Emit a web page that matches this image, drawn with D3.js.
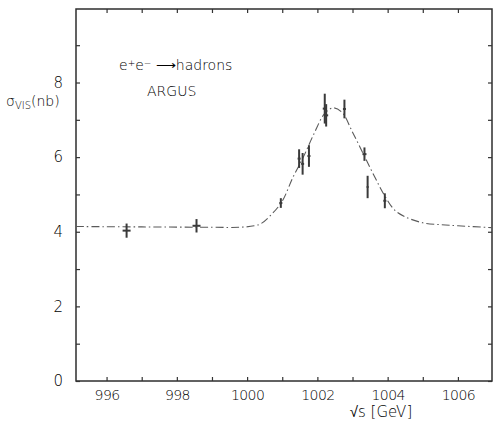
<!DOCTYPE html>
<html>
<head>
<meta charset="utf-8">
<script src="https://cdn.jsdelivr.net/npm/d3@7/dist/d3.min.js"></script>
<style>
  body { margin: 0; background: #fff; }
  svg text { font-family: "DejaVu Sans", sans-serif; font-weight: 200; fill: #000; }
  .axis path { display: none; }
  .axis line { stroke: #333; stroke-width: 1.2; }
</style>
</head>
<body>
<div id="chart-container"></div>
<script>
// measured points (sqrt(s) in GeV, sigma_vis in nb, error)
var pointE   = [9.9657, 9.9856, 10.0096, 10.0148, 10.0158, 10.0176, 10.0221, 10.0225, 10.0277, 10.0334, 10.0343, 10.0392];
var pointSig = [4.03, 4.16, 4.77, 5.96, 5.82, 6.03, 7.30, 7.12, 7.29, 6.08, 5.20, 4.83];
var pointErr = [0.19, 0.18, 0.13, 0.25, 0.29, 0.29, 0.40, 0.30, 0.25, 0.18, 0.30, 0.20];
var pointCap = [8, 8, 3, 3, 3, 3, 4, 4, 3, 4, 2, 3];

// fitted curve
var curveE   = [9.9513, 9.97, 9.99, 9.998, 10.002, 10.004, 10.007, 10.010, 10.013, 10.016, 10.019, 10.022, 10.0245, 10.027, 10.030, 10.033, 10.036, 10.039, 10.042, 10.045, 10.050, 10.055, 10.060, 10.0697];
var curveSig = [4.14, 4.13, 4.12, 4.12, 4.16, 4.22, 4.47, 4.82, 5.45, 6.00, 6.62, 7.16, 7.32, 7.20, 6.67, 6.10, 5.53, 4.99, 4.58, 4.40, 4.24, 4.19, 4.16, 4.11];

// ticks
var xMinorTicks = [9.96, 9.97, 9.98, 9.99, 10.00, 10.01, 10.02, 10.03, 10.04, 10.05, 10.06];
var xLabelTicks = [9.96, 9.98, 10.00, 10.02, 10.04, 10.06];
var xTickLabels = ["996", "998", "1000", "1002", "1004", "1006"];
var yMinorTicks = [0, 1, 2, 3, 4, 5, 6, 7, 8, 9];
var yLabelTicks = [0, 2, 4, 6, 8];
var yTickLabels = ["0", "2", "4", "6", "8"];

(function () {

    var margins = { top: 9, bottom: 46, left: 76, right: 4 };
    var dimensions = {
        width: 496 - margins.left - margins.right,
        height: 427 - margins.top - margins.bottom
    };

    var x = d3.scaleLinear()
        .domain([9.9513, 10.0697])
        .range([0, dimensions.width]);

    var y = d3.scaleLinear()
        .domain([0, 9.97])
        .range([dimensions.height, 0]);

    var svg = d3.select('#chart-container')
        .append('svg')
            .attr('width', 496)
            .attr('height', 427);

    var chart = svg.append('g')
        .attr('transform', 'translate(' + margins.left + ',' + margins.top + ')');

    // frame
    chart.append('rect')
        .attr('x', 0).attr('y', 0)
        .attr('width', dimensions.width)
        .attr('height', dimensions.height)
        .attr('fill', 'none')
        .attr('stroke', '#2e2e2e')
        .attr('stroke-width', 1.5);

    // inward ticks on all four sides
    var xLabel = function (d) {
        var i = xLabelTicks.findIndex(function (v) { return Math.abs(v - d) < 1e-6; });
        return i < 0 ? '' : xTickLabels[i];
    };
    var yLabel = function (d) {
        var i = yLabelTicks.indexOf(d);
        return i < 0 ? '' : yTickLabels[i];
    };

    chart.append('g')
        .attr('class', 'x axis')
        .attr('transform', 'translate(0,' + dimensions.height + ')')
        .call(d3.axisBottom(x).tickValues(xMinorTicks).tickSizeInner(-4).tickSizeOuter(0).tickPadding(9).tickFormat(xLabel))
        .selectAll('text')
            .style('font-size', '14px')
            .style('letter-spacing', '-0.6px');

    chart.append('g')
        .attr('class', 'x axis')
        .call(d3.axisTop(x).tickValues(xMinorTicks).tickSizeInner(-4).tickSizeOuter(0).tickFormat(''));

    chart.append('g')
        .attr('class', 'y axis')
        .call(d3.axisLeft(y).tickValues(yMinorTicks).tickSizeInner(-4).tickSizeOuter(0).tickPadding(13).tickFormat(yLabel))
        .selectAll('text')
            .style('font-size', '15px');

    chart.append('g')
        .attr('class', 'y axis')
        .attr('transform', 'translate(' + dimensions.width + ',0)')
        .call(d3.axisRight(y).tickValues(yMinorTicks).tickSizeInner(-4).tickSizeOuter(0).tickFormat(''));

    // fitted curve
    var curveData = curveE.map(function (e, i) { return { e: e, s: curveSig[i] }; });
    var line = d3.line()
        .x(function (d) { return x(d.e); })
        .y(function (d) { return y(d.s); })
        .curve(d3.curveCatmullRom.alpha(0.5));

    chart.append('path')
        .datum(curveData)
        .attr('d', line)
        .attr('fill', 'none')
        .attr('stroke', '#5a5a5a')
        .attr('stroke-width', 1.1)
        .attr('stroke-dasharray', '8,3,1.5,3');

    // data points with error bars
    var points = pointE.map(function (e, i) { return { e: e, s: pointSig[i], err: pointErr[i], cap: pointCap[i] }; });
    var pts = chart.append('g').selectAll('g')
        .data(points)
        .enter().append('g');

    pts.append('line')
        .attr('x1', function (d) { return x(d.e); })
        .attr('x2', function (d) { return x(d.e); })
        .attr('y1', function (d) { return y(d.s - d.err); })
        .attr('y2', function (d) { return y(d.s + d.err); })
        .attr('stroke', '#3a3a3a')
        .attr('stroke-width', 2);

    pts.append('line')
        .attr('x1', function (d) { return x(d.e) - d.cap / 2; })
        .attr('x2', function (d) { return x(d.e) + d.cap / 2; })
        .attr('y1', function (d) { return y(d.s); })
        .attr('y2', function (d) { return y(d.s); })
        .attr('stroke', '#3a3a3a')
        .attr('stroke-width', 2);

    // axis titles
    svg.append('text')
        .attr('x', 381)
        .attr('y', 417)
        .attr('text-anchor', 'middle')
        .style('font-size', '15px')
        .text('√s  [GeV]');

    var yt = svg.append('text')
        .attr('x', 6)
        .attr('y', 106)
        .style('font-size', '14px');
    yt.append('tspan').text('σ');
    yt.append('tspan').attr('dy', 3).style('font-size', '10px').text('VIS');
    yt.append('tspan').attr('dy', -3).text('(nb)');

    // annotations
    var ann = svg.append('text')
        .attr('x', 119)
        .attr('y', 70)
        .style('font-size', '14px');
    ann.append('tspan').text('e');
    ann.append('tspan').attr('dy', -4).style('font-size', '9px').text('+');
    ann.append('tspan').attr('dy', 4).text('e');
    ann.append('tspan').attr('dy', -4).style('font-size', '9px').text('−');
    ann.append('tspan').attr('dy', 4).text(' ⟶hadrons');

    svg.append('text')
        .attr('x', 147)
        .attr('y', 96)
        .style('font-size', '14px')
        .text('ARGUS');

})();
</script>
</body>
</html>
